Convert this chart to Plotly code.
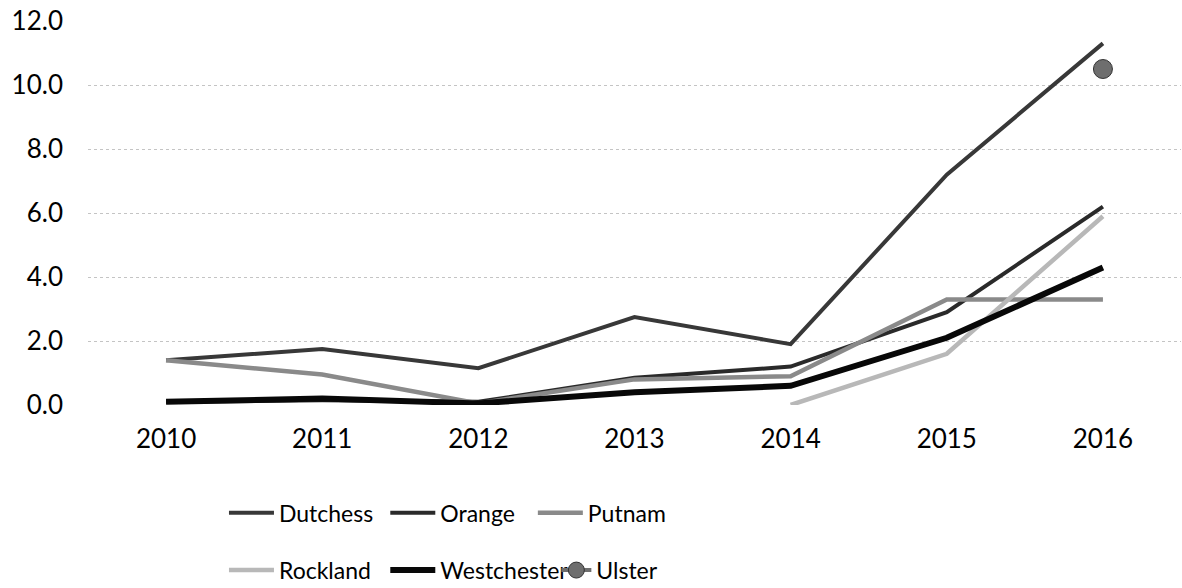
import plotly.graph_objects as go

years = ["2010", "2011", "2012", "2013", "2014", "2015", "2016"]
dutchess = [1.4, 1.75, 1.15, 2.75, 1.9, 7.2, 11.3]
orange = [0.1, 0.15, 0.1, 0.85, 1.2, 2.9, 6.2]
putnam = [1.4, 0.95, 0.05, 0.8, 0.9, 3.3, 3.3]
rockland = [None, None, None, None, 0.0, 1.6, 5.9]
westchester = [0.1, 0.2, 0.05, 0.4, 0.6, 2.1, 4.3]
ulster = [None, None, None, None, None, None, 10.5]
y_ticks = [0, 2, 4, 6, 8, 10, 12]

FONT = "Lato"
fig = go.Figure()

def add_line(name, vals, color, width, legend):
    fig.add_trace(go.Scatter(x=years, y=vals, name=name, mode="lines",
                             line=dict(color=color, width=width),
                             legend=legend, connectgaps=False))

add_line("Dutchess", dutchess, "#383838", 4, "legend")
add_line("Orange", orange, "#2a2a2a", 4, "legend2")
add_line("Putnam", putnam, "#8a8a8a", 4.5, "legend3")
add_line("Rockland", rockland, "#b8b8b8", 4.5, "legend4")
add_line("Westchester", westchester, "#080808", 6, "legend5")
fig.add_trace(go.Scatter(x=years, y=ulster, name="Ulster", mode="lines+markers",
                         line=dict(color="#6e6e6e", width=4),
                         marker=dict(color="#6e6e6e", size=19,
                                     line=dict(color="#333333", width=1)),
                         legend="legend6"))

def leg(x, y, itemwidth=45):
    return dict(orientation="h", xanchor="left", yanchor="middle", x=x, y=y,
                itemwidth=itemwidth,
                font=dict(family=FONT, size=23, color="#000000"),
                bgcolor="rgba(0,0,0,0)")

ROW1, ROW2 = -0.281, -0.430

fig.update_layout(
    width=1182, height=588,
    margin=dict(l=88, r=1, t=21, b=183, autoexpand=False),
    paper_bgcolor="white", plot_bgcolor="white",
    font=dict(family=FONT, size=26, color="#000000"),
    showlegend=True,
    legend=leg(0.1244, ROW1),
    legend2=leg(0.272, ROW1),
    legend3=leg(0.407, ROW1),
    legend4=leg(0.1244, ROW2),
    legend5=leg(0.272, ROW2),
    legend6=leg(0.4285, ROW2, itemwidth=30),
    xaxis=dict(type="category", range=[-0.5, 6.5], showgrid=False,
               showline=False, zeroline=False, ticks="", automargin=False,
               tickfont=dict(family=FONT, size=26, color="#000000"),
               ticklabelstandoff=16),
    yaxis=dict(range=[0, 12], tickvals=y_ticks,
               ticktext=[f"{v:.1f}" for v in y_ticks],
               showgrid=True, gridcolor="#c4c4c4", gridwidth=1, griddash="dot",
               zeroline=False, showline=False, ticks="", automargin=False,
               tickfont=dict(family=FONT, size=26, color="#000000"),
               ticklabelstandoff=24),
)

fig.write_html(
    "out.html",
    config={"displayModeBar": False},
    post_script="document.body.style.margin='0';document.body.style.overflow='hidden';"
                "document.documentElement.style.overflow='hidden';",
)
